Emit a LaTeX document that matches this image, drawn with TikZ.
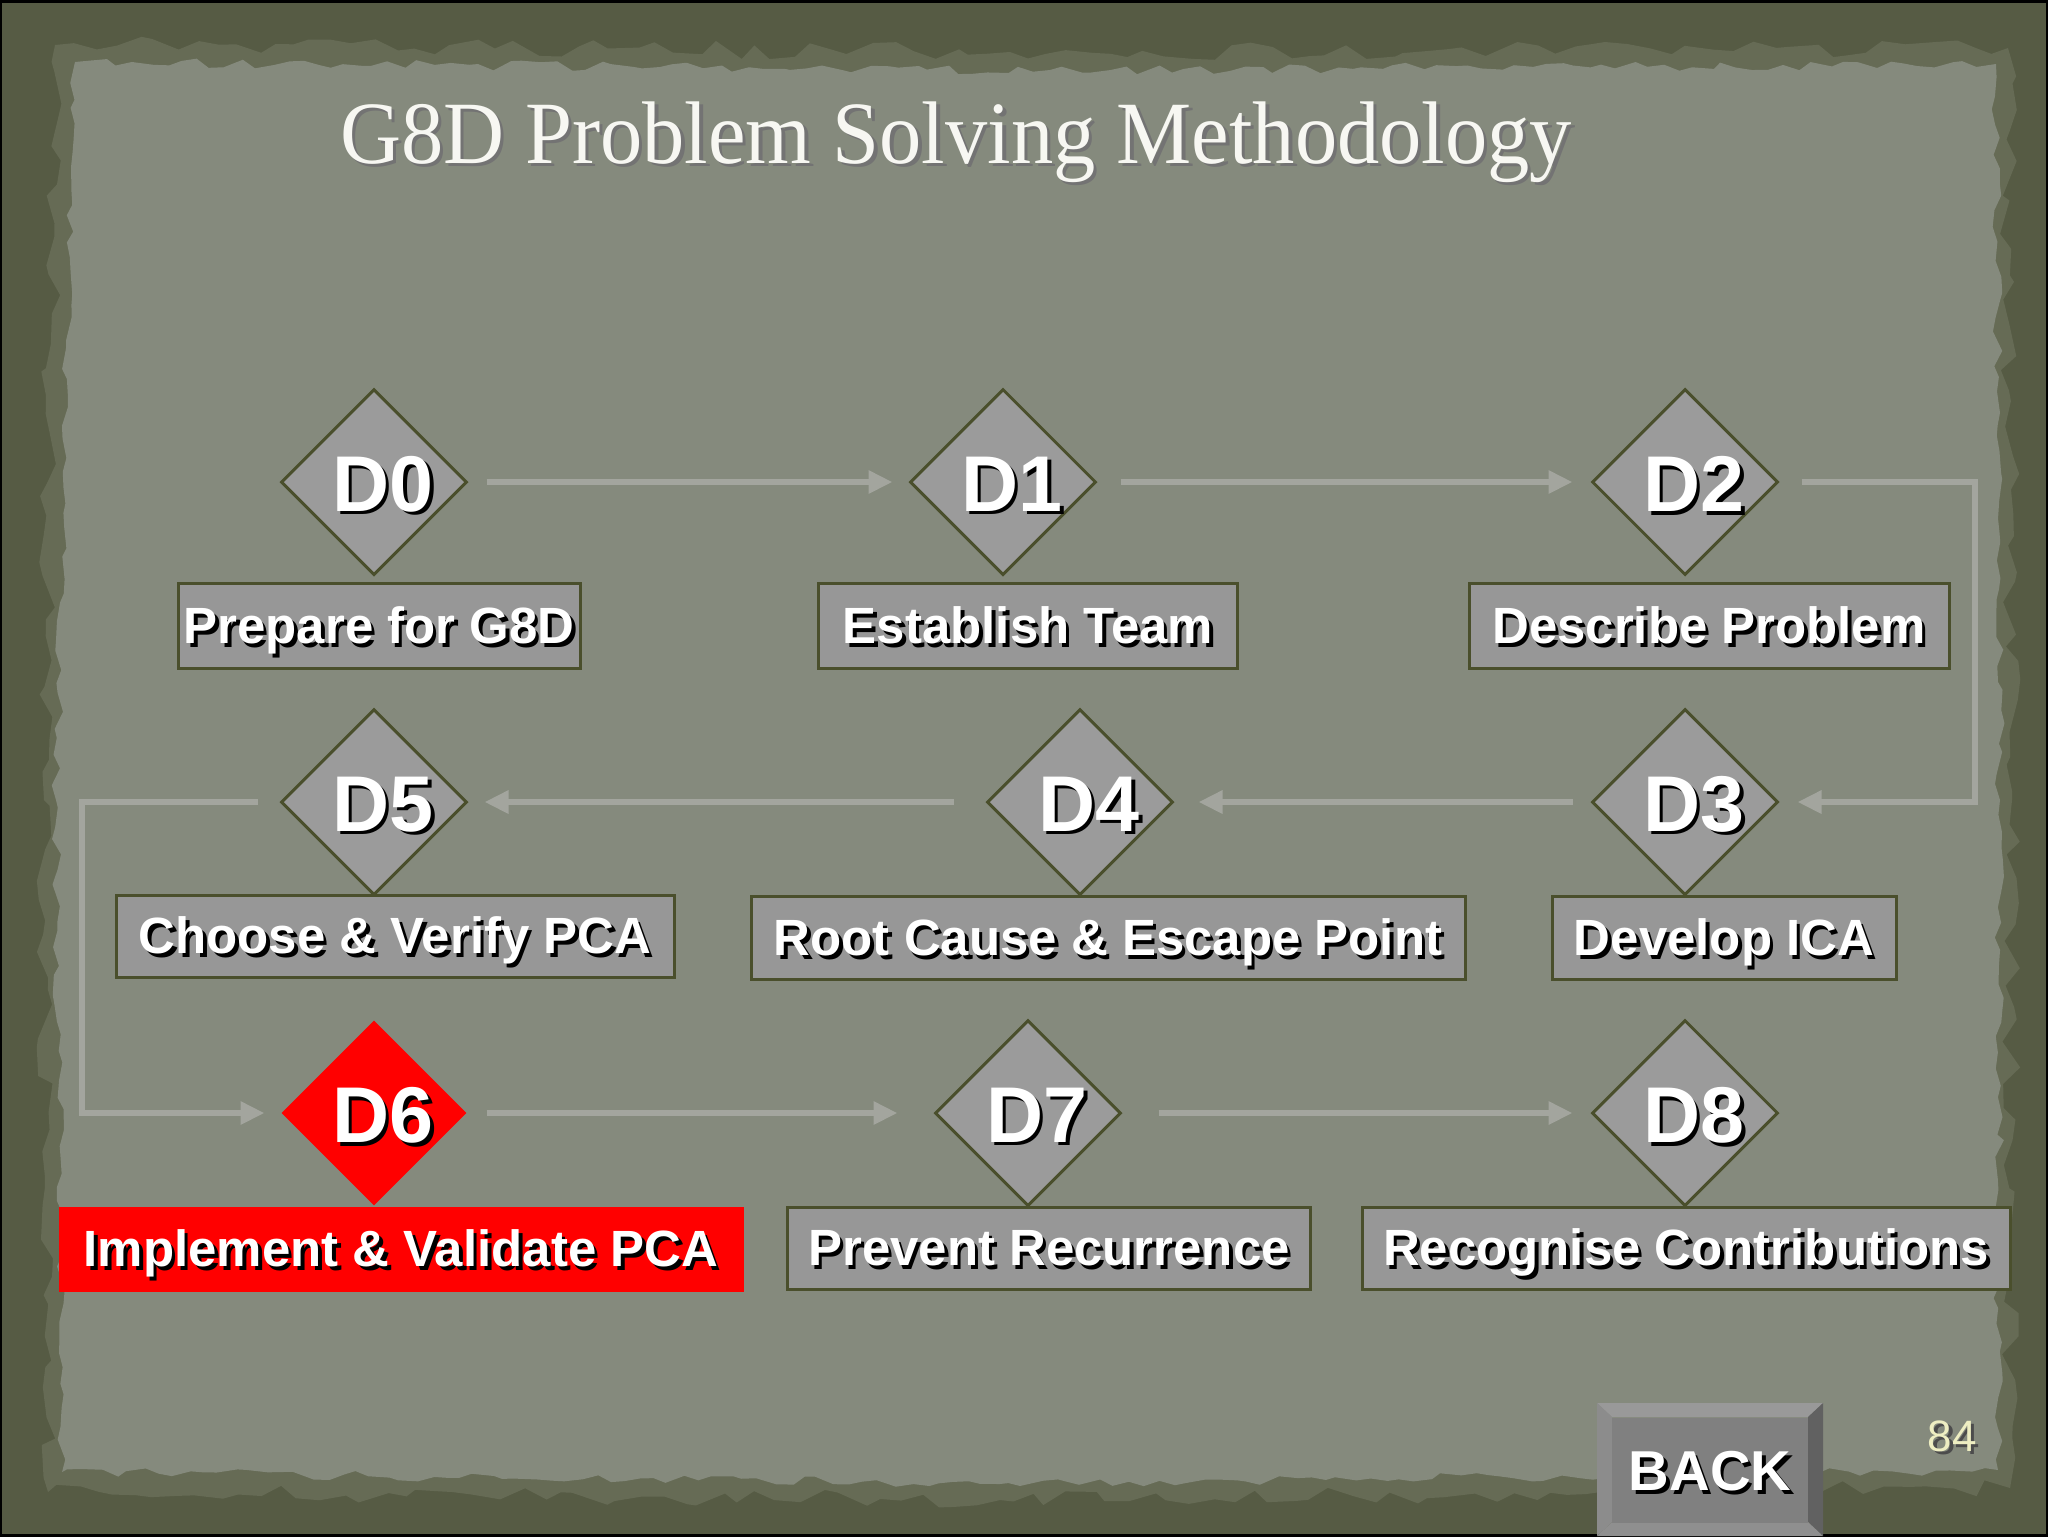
\documentclass[tikz,border=0pt]{standalone}
\usepackage{graphicx}
\usepackage{fontspec}
\setmainfont{Liberation Sans}
\newfontfamily\titlefont{Liberation Serif}
\usetikzlibrary{shapes.geometric, arrows.meta, decorations.pathmorphing}

\definecolor{bgdark}{HTML}{565B44}
\definecolor{papermid}{HTML}{666B55}
\definecolor{paper}{HTML}{858A7D}
\definecolor{diagray}{HTML}{9B9B9B}
\definecolor{boxgray}{HTML}{979797}
\definecolor{olivebd}{HTML}{4A4F2C}
\definecolor{conncol}{HTML}{A3A59E}
\definecolor{hotred}{HTML}{FF0000}
\definecolor{titlewhite}{HTML}{F7F7F2}
\definecolor{pageyellow}{HTML}{EEEEC2}

\newcommand{\shtext}[2][black]{\leavevmode\rlap{\kern0.35mm\raisebox{-0.35mm}{\textcolor{#1}{#2}}}#2}

\tikzset{
  dia/.style={diamond, aspect=1, draw=olivebd, line width=0.3mm, fill=diagray,
    minimum width=18.6mm, minimum height=18.6mm, inner sep=0pt},
  diared/.style={dia, draw=none, fill=hotred},
  dtext/.style={text=white, inner sep=0pt, font=\bfseries\fontsize{22.5pt}{26pt}\selectfont},
  lbl/.style={draw=olivebd, line width=0.3mm, fill=boxgray, inner sep=0pt,
    text height=3.5mm, text depth=0pt,
    text=white, font=\bfseries\fontsize{14.5pt}{17pt}\selectfont},
  lblred/.style={lbl, draw=none, fill=hotred},
  conn/.style={draw=conncol, line width=0.6mm,
    -{Triangle[length=2.4mm,width=2.2mm]}},
}

\begin{document}
\begin{tikzpicture}[x=0.1mm,y=-0.1mm]
\pgfmathsetseed{7}
\useasboundingbox (0,0) rectangle (2048,1536);
% background and torn paper
\fill[bgdark] (0,0) rectangle (2048,1536);
\fill[papermid, decorate, decoration={random steps,segment length=2mm,amplitude=0.9mm}]
  (55,45) -- (1010,52) -- (2008,48) -- (2012,800) -- (2010,1488) -- (1000,1500) -- (48,1492) -- (44,800) -- cycle;
\fill[paper, decorate, decoration={random steps,segment length=1.5mm,amplitude=0.5mm}]
  (75,62) -- (1050,70) -- (1996,64) -- (2000,800) -- (1998,1470) -- (1000,1484) -- (62,1472) -- (56,800) -- cycle;
\draw[black, line width=0.3mm] (1,1) rectangle (2047,1535);

% title
\node[text=titlewhite, anchor=base, inner sep=0pt,
  font=\titlefont\fontsize{25.3pt}{30pt}\selectfont] (title) at (956,163)
  {\scalebox{0.95}[1]{\shtext[black!55]{G8D Problem Solving Methodology}}};

% connectors' corner coordinates
\coordinate (rx) at (1975,0);
\coordinate (lx) at (82,0);

% diamonds
\node[dia] (D0) at (374,482) {};
\node[dia] (D1) at (1003,482) {};
\node[dia] (D2) at (1685,482) {};
\node[dia] (D3) at (1685,802) {};
\node[dia] (D4) at (1080,802) {};
\node[dia] (D5) at (374,802) {};
\node[diared] (D6) at (374,1113) {};
\node[dia] (D7) at (1028,1113) {};
\node[dia] (D8) at (1685,1113) {};

\foreach \n in {0,...,8}{
  \node[dtext] (D\n t) at ([xshift=0.9mm,yshift=-0.4mm]D\n.center) {\shtext{D\n}};
}

% label boxes
\node[lbl, minimum width=40.2mm, minimum height=8.5mm] (L0) at (379,626) {\shtext{Prepare for G8D}};
\node[lbl, minimum width=41.9mm, minimum height=8.5mm] (L1) at (1028,626) {\shtext{Establish Team}};
\node[lbl, minimum width=48.0mm, minimum height=8.5mm] (L2) at (1709,626) {\shtext{Describe Problem}};
\node[lbl, minimum width=34.4mm, minimum height=8.3mm] (L3) at (1724,938) {\shtext{Develop ICA}};
\node[lbl, minimum width=71.4mm, minimum height=8.3mm] (L4) at (1108,938) {\shtext{Root Cause \& Escape Point}};
\node[lbl, minimum width=55.8mm, minimum height=8.2mm] (L5) at (395,936) {\shtext{Choose \& Verify PCA}};
\node[lblred, minimum width=68.5mm, minimum height=8.5mm] (L6) at (401,1249) {\shtext{Implement \& Validate PCA}};
\node[lbl, minimum width=52.3mm, minimum height=8.2mm] (L7) at (1049,1248) {\shtext{Prevent Recurrence}};
\node[lbl, minimum width=64.8mm, minimum height=8.2mm] (L8) at (1686,1248) {\shtext{Recognise Contributions}};

% connectors
\draw[conn, shorten <=1.8mm, shorten >=1.6mm] (D0) -- (D1);
\draw[conn, shorten <=2.3mm, shorten >=1.8mm] (D1) -- (D2);
\draw[conn, shorten <=2.2mm, shorten >=1.8mm] (D2.east) -- (D2.east -| rx) -- (D3.east -| rx) -- (D3.east);
\draw[conn, shorten <=1.8mm, shorten >=2.4mm] (D3) -- (D4);
\draw[conn, shorten <=3.2mm, shorten >=1.6mm] (D4) -- (D5);
\draw[conn, shorten <=2.2mm, shorten >=1.5mm] (D5.west) -- (D5.west -| lx) -- (D6.west -| lx) -- (D6.west);
\draw[conn, shorten <=1.8mm, shorten >=3.6mm] (D6) -- (D7);
\draw[conn, shorten <=3.6mm, shorten >=1.8mm] (D7) -- (D8);

% BACK button
\fill[black!40] (1597,1403) -- (1823,1403) -- (1808,1417) -- (1612,1417) -- cycle;
\fill[black!45] (1597,1403) -- (1612,1417) -- (1612,1522) -- (1597,1536) -- cycle;
\fill[black!62] (1823,1403) -- (1823,1536) -- (1808,1522) -- (1808,1417) -- cycle;
\fill[black!44] (1597,1536) -- (1612,1522) -- (1808,1522) -- (1823,1536) -- cycle;
\node[fill=black!50, minimum width=19.6mm, minimum height=10.5mm, inner sep=0pt,
  text height=4.1mm, text depth=0pt, text=white,
  font=\bfseries\fontsize{16pt}{19pt}\selectfont] (back) at (1710,1470) {\shtext{BACK}};

% page number
\node[text=pageyellow, inner sep=0pt, font=\fontsize{12.5pt}{15pt}\selectfont] (pg) at (1952,1438) {\shtext[black!70]{84}};
\end{tikzpicture}
\end{document}
